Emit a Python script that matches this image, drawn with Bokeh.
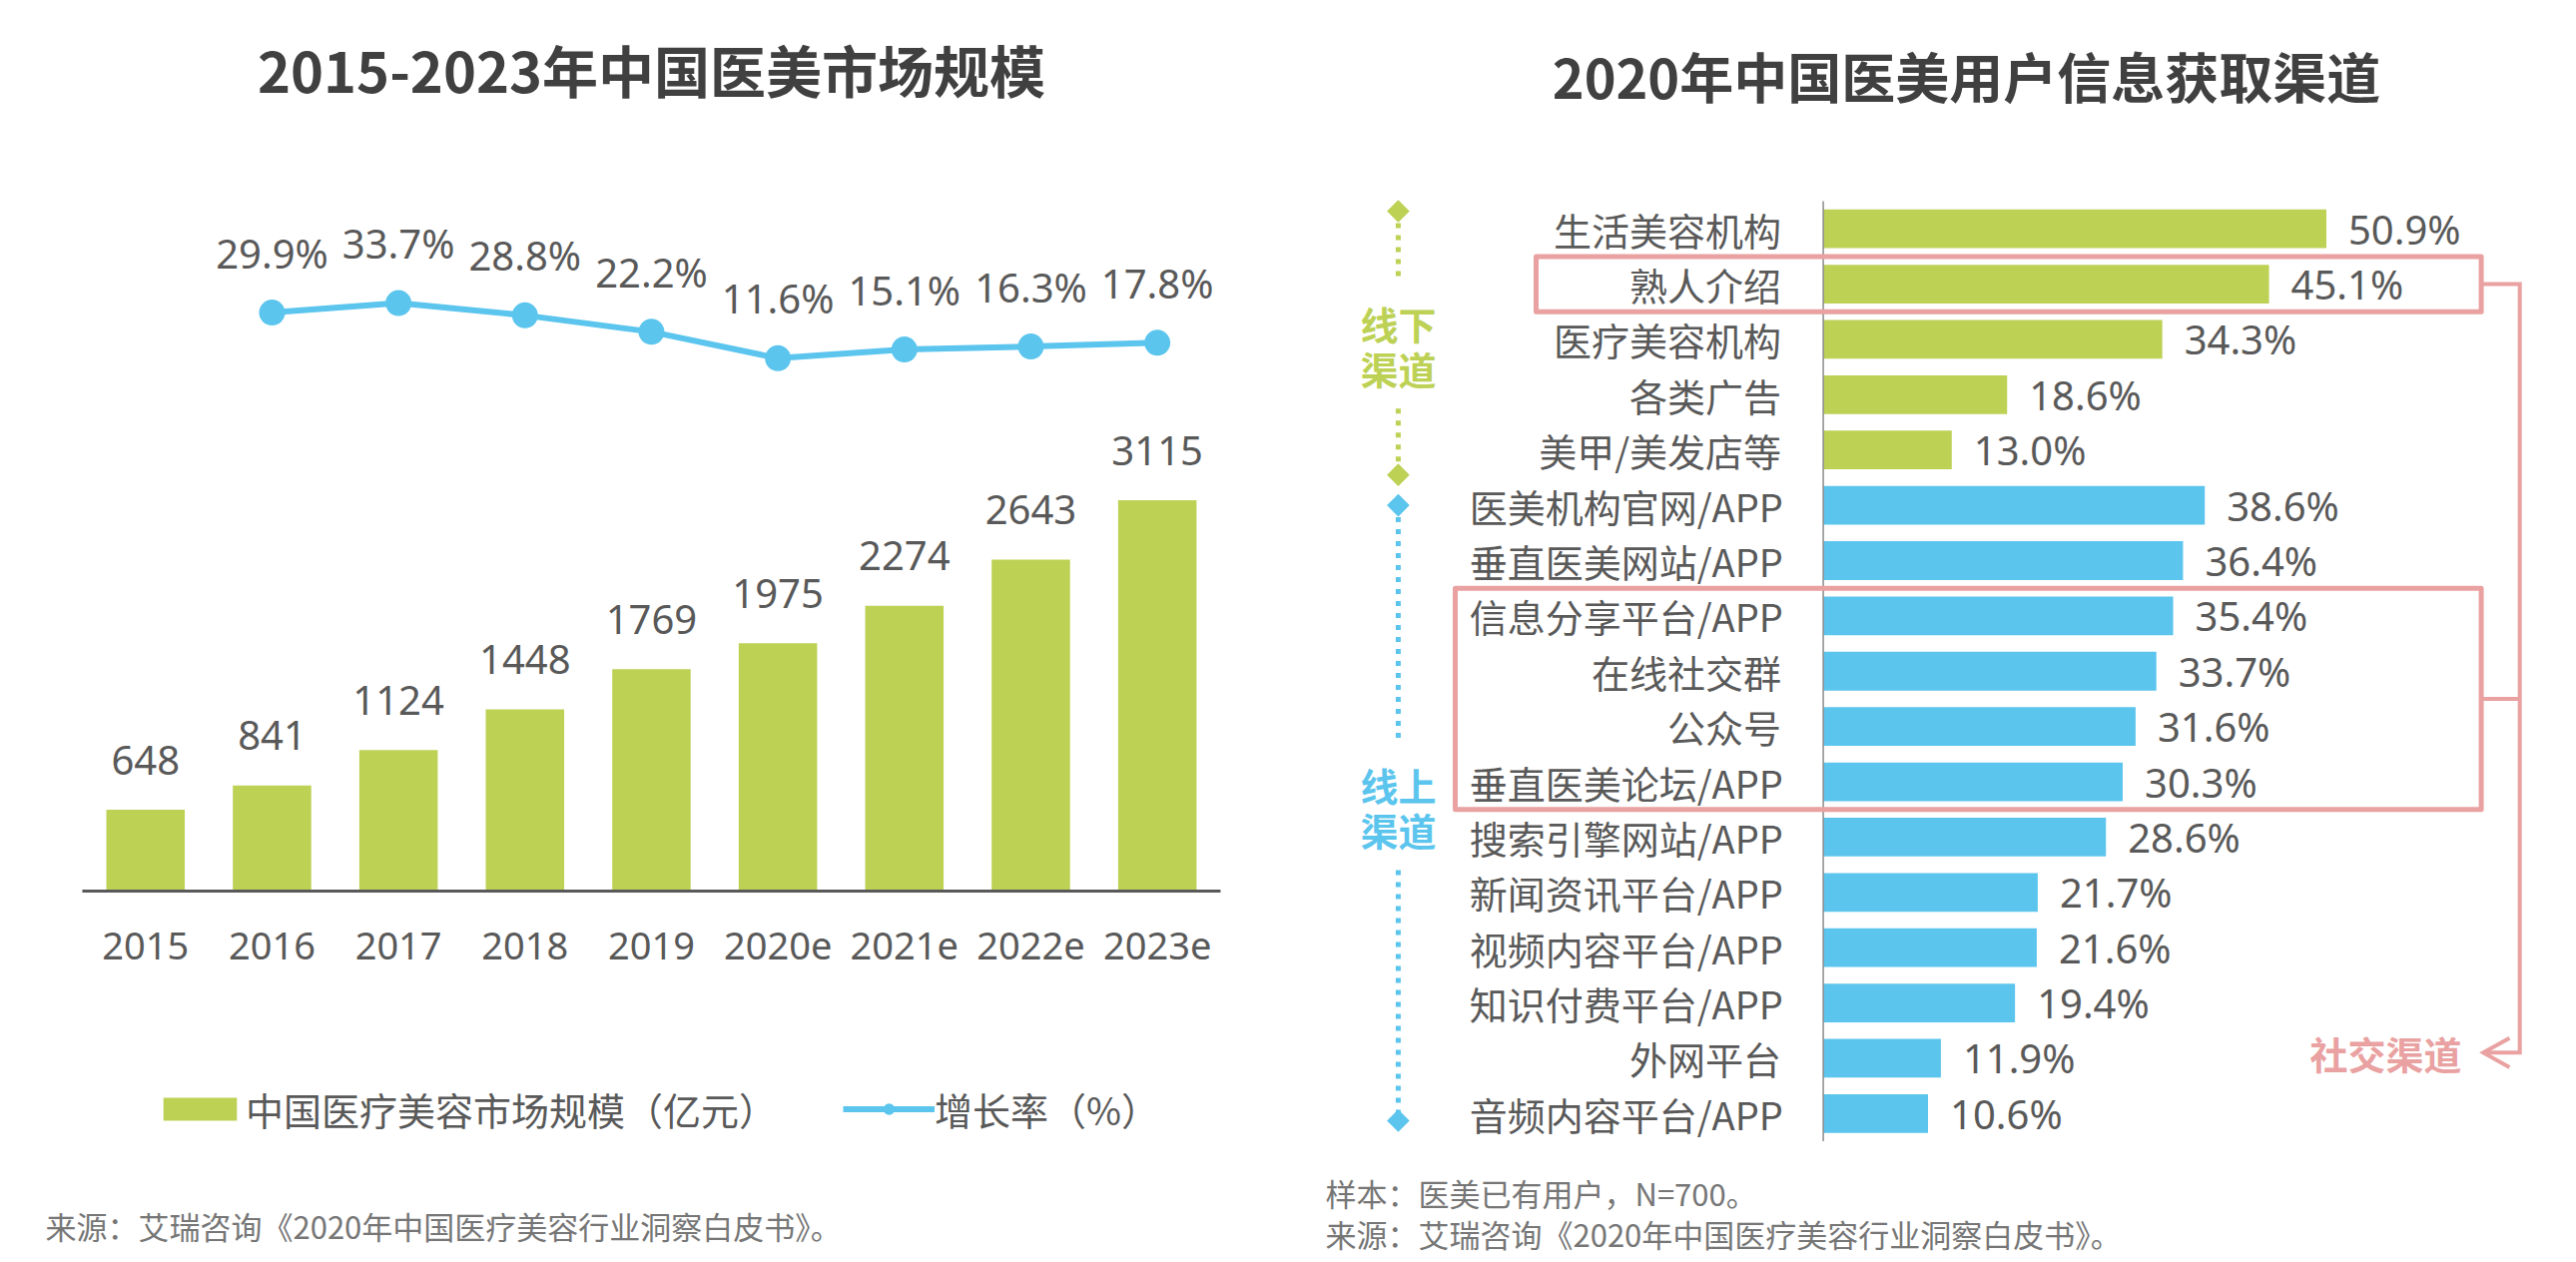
import math
from bokeh.plotting import figure
from bokeh.layouts import row
from bokeh.models import (Range1d, Label, Legend, LegendItem, ColumnDataSource)
from bokeh.core.properties import value
from bokeh.embed import file_html
from bokeh.resources import INLINE

# ---------------- data ----------------
years = ["2015", "2016", "2017", "2018", "2019", "2020e", "2021e", "2022e", "2023e"]
market_size = [648, 841, 1124, 1448, 1769, 1975, 2274, 2643, 3115]
growth_years = ["2016", "2017", "2018", "2019", "2020e", "2021e", "2022e", "2023e"]
growth_rate = [29.9, 33.7, 28.8, 22.2, 11.6, 15.1, 16.3, 17.8]

offline_channels = ["生活美容机构", "熟人介绍", "医疗美容机构", "各类广告", "美甲/美发店等"]
offline_share = [50.9, 45.1, 34.3, 18.6, 13.0]
online_channels = ["医美机构官网/APP", "垂直医美网站/APP", "信息分享平台/APP", "在线社交群",
                   "公众号", "垂直医美论坛/APP", "搜索引擎网站/APP", "新闻资讯平台/APP",
                   "视频内容平台/APP", "知识付费平台/APP", "外网平台", "音频内容平台/APP"]
online_share = [38.6, 36.4, 35.4, 33.7, 31.6, 30.3, 28.6, 21.7, 21.6, 19.4, 11.9, 10.6]
social_groups = [["熟人介绍"], ["信息分享平台/APP", "在线社交群", "公众号", "垂直医美论坛/APP"]]

left_title = "2015-2023年中国医美市场规模"
right_title = "2020年中国医美用户信息获取渠道"
legend_bar = "中国医疗美容市场规模（亿元）"
legend_line = "增长率（%）"
source_text = "来源：艾瑞咨询《2020年中国医疗美容行业洞察白皮书》。"
sample_text = "样本：医美已有用户，N=700。"

# ---------------- style ----------------
GREEN = "#BDD155"
BLUE = "#5BC5EE"
PINK = "#E9A1A1"
TEXT = "#595959"
TITLE = "#404040"
NOTE = "#767676"
CJK = value("Noto Sans CJK SC")
LAT = value("Noto Sans")
H = 1258
W1, W2 = 1282, 1282


def bare(p):
    p.outline_line_color = None
    p.xgrid.visible = False
    p.ygrid.visible = False


# ================= left chart =================
p1 = figure(width=W1, height=H, x_range=Range1d(-1.147, 8.974), y_range=Range1d(-2912.9, 7099),
            output_backend="svg", toolbar_location=None, x_axis_location=None,
            y_axis_location=None, min_border=0)
p1.extra_y_ranges = {"rate": Range1d(-348.26, 154.94)}
bare(p1)

xi = list(range(len(years)))
bsrc = ColumnDataSource(dict(x=xi, year=years, size=market_size, zero=[0] * len(xi),
                             label=[str(v) for v in market_size]))
bars = p1.vbar(x="x", top="size", width=0.62, source=bsrc, fill_color=GREEN, line_color=None)
p1.text(x="x", y="size", text="label", source=bsrc, y_offset=-50,
        text_align="center", text_baseline="middle", text_font=LAT,
        text_font_size="40px", text_color=TEXT)
# category axis: baseline + year labels
p1.segment(x0=[xi[0] - 0.5], y0=[0], x1=[xi[-1] + 0.5], y1=[0], line_color=TEXT, line_width=3)
p1.text(x="x", y="zero", text="year", source=bsrc, y_offset=55,
        text_align="center", text_baseline="middle", text_font=LAT,
        text_font_size="38px", text_color=TEXT)

gx_idx = [years.index(y) for y in growth_years]
lsrc = ColumnDataSource(dict(x=gx_idx, rate=growth_rate,
                             label=[f"{v:.1f}%" for v in growth_rate]))
ln = p1.line(x="x", y="rate", source=lsrc, y_range_name="rate", line_width=6,
             line_color=BLUE, line_join="round")
pts = p1.scatter(x="x", y="rate", source=lsrc, y_range_name="rate", size=26,
                 fill_color=BLUE, line_color=None)
p1.text(x="x", y="rate", text="label", source=lsrc, y_range_name="rate", y_offset=-60,
        text_align="center", text_baseline="middle", text_font=LAT,
        text_font_size="40px", text_color=TEXT)

legend = Legend(items=[LegendItem(label=legend_bar, renderers=[bars]),
                       LegendItem(label=legend_line, renderers=[ln, pts])],
                location=(154, 120), orientation="horizontal",
                glyph_width=92, glyph_height=29, label_standoff=0, spacing=66,
                padding=0, margin=0, border_line_color=None, background_fill_alpha=0,
                label_text_font="Noto Sans CJK SC", label_text_font_size="38px",
                label_text_color=TEXT)
p1.add_layout(legend)

p1.add_layout(Label(x=652, y=1190, x_units="screen", y_units="screen", text=left_title,
                    text_align="center", text_baseline="middle", text_font="Noto Sans CJK SC",
                    text_font_style="bold", text_font_size="56px", text_color=TITLE))
p1.add_layout(Label(x=45, y=31.5, x_units="screen", y_units="screen", text=source_text,
                    text_align="left", text_baseline="middle", text_font="Noto Sans CJK SC",
                    text_font_size="31px", text_color=NOTE))

# ================= right chart =================
channels = offline_channels + online_channels
shares = offline_share + online_share
n_off = len(offline_channels)
idx = list(range(len(channels)))
colors = [GREEN] * n_off + [BLUE] * len(online_channels)

p2 = figure(width=W2, height=H, x_range=Range1d(-54.91, 74.59), y_range=Range1d(18.586, -4.130),
            output_backend="svg", toolbar_location=None, x_axis_location=None,
            y_axis_location=None, min_border=0)
bare(p2)

hsrc = ColumnDataSource(dict(idx=idx, share=shares, color=colors, name=channels,
                             zero=[0] * len(idx), label=[f"{v:.1f}%" for v in shares]))
p2.hbar(y="idx", left="zero", right="share", height=0.70, source=hsrc,
        fill_color="color", line_color=None)
p2.text(x="zero", y="idx", text="name", source=hsrc, x_offset=-42,
        text_align="right", text_baseline="middle", text_font=CJK,
        text_font_size="38px", text_color=TEXT)
p2.text(x="share", y="idx", text="label", source=hsrc, x_offset=22,
        text_align="left", text_baseline="middle", text_font=LAT,
        text_font_size="40px", text_color=TEXT)
# category axis line
p2.segment(x0=[0], y0=[idx[0] - 0.5], x1=[0], y1=[idx[-1] + 0.5],
           line_color="#8C8C8C", line_width=1.5)

# social-channel boxes
box_left = [-29.05, -37.23]
box_right = 66.57
tops, bottoms = [], []
for g in social_groups:
    ii = [channels.index(c) for c in g]
    tops.append(min(ii) - 0.5)
    bottoms.append(max(ii) + 0.5)
p2.quad(left=box_left, right=[box_right] * 2, top=tops, bottom=bottoms,
        fill_color=None, line_color=PINK, line_width=5, line_join="round")
cy1 = (tops[0] + bottoms[0]) / 2
cy2 = (tops[1] + bottoms[1]) / 2
xc = 70.47
ya = 14.9
p2.multi_line(xs=[[box_right, xc, xc, 66.78], [box_right, xc], [69.43, 66.78, 69.43]],
              ys=[[cy1, cy1, ya, ya], [cy2, cy2], [ya - 0.265, ya, ya + 0.265]],
              line_color=PINK, line_width=4, line_join="miter")
p2.text(x=[64.6], y=[ya], text=["社交渠道"], text_align="right", text_baseline="middle",
        text_font=CJK, text_font_style="bold", text_font_size="38px", text_color=PINK)

# offline / online brackets
gx = -43.0
for (ytop, ybot, yc, gap, col, l1, l2) in [(-0.32, 4.45, 2.1, 1.15, GREEN, "线下", "渠道"),
                                           (5.0, 16.13, 10.45, 1.15, BLUE, "线上", "渠道")]:
    p2.segment(x0=[gx, gx], y0=[ytop, yc + gap], x1=[gx, gx], y1=[yc - gap, ybot],
               line_color=col, line_width=5, line_dash="5 7")
    p2.scatter(x=[gx, gx], y=[ytop, ybot], marker="square", size=16, angle=math.pi / 4,
               fill_color=col, line_color=None)
    p2.text(x=[gx, gx], y=[yc, yc], text=[l1, l2], y_offset=[-22, 23],
            text_align="center", text_baseline="middle",
            text_font=CJK, text_font_style="bold", text_font_size="38px", text_color=col)

p2.add_layout(Label(x=687, y=1183, x_units="screen", y_units="screen", text=right_title,
                    text_align="center", text_baseline="middle", text_font="Noto Sans CJK SC",
                    text_font_style="bold", text_font_size="54px", text_color=TITLE))
p2.add_layout(Label(x=45, y=64, x_units="screen", y_units="screen", text=sample_text,
                    text_align="left", text_baseline="middle", text_font="Noto Sans CJK SC",
                    text_font_size="31px", text_color=NOTE))
p2.add_layout(Label(x=45, y=23.4, x_units="screen", y_units="screen", text=source_text,
                    text_align="left", text_baseline="middle", text_font="Noto Sans CJK SC",
                    text_font_size="31px", text_color=NOTE))

layout = row(p1, p2)
open("out.html", "w").write(file_html(layout, INLINE))
